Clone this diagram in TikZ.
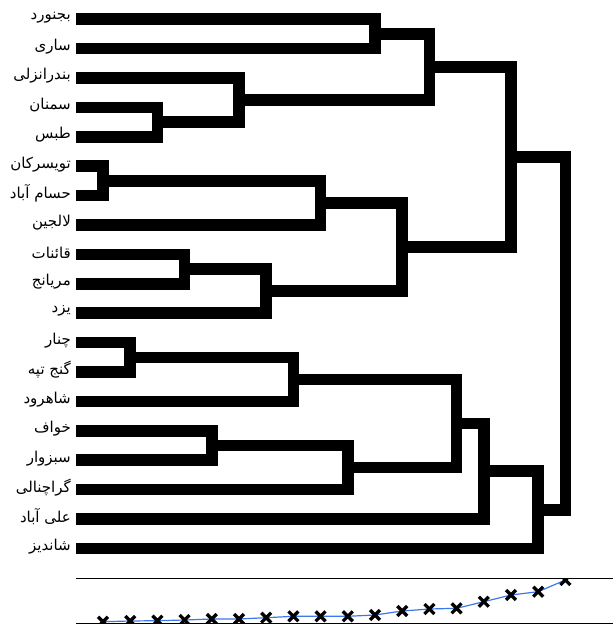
\documentclass[tikz,border=0pt]{standalone}
\usepackage{fontspec}
\usetikzlibrary{calc}
\newfontfamily\arabicfont[Script=Arabic]{DejaVu Sans}
\TeXXeTstate=1
\definecolor{trendblue}{RGB}{60,120,235}

\begin{document}
\begin{tikzpicture}[x=1pt, y=-1pt,
    link/.style={line width=11.5pt, line join=miter},
    city/.style={anchor=east, inner sep=0pt, font=\arabicfont\fontsize{15}{15}\selectfont},
    rule/.style={line width=0.8pt},
    trend/.style={draw=trendblue, line width=1.2pt, mark=x, mark size=7pt,
        mark options={draw=black, line width=3.3pt}}]
    \useasboundingbox (0,0) rectangle (613,627);
    % leaves
    \foreach \name [count=\i] in {بجنورد, ساری, بندرانزلی, سمنان, طبس, تویسرکان,
        حسام آباد, لالجین, قائنات, مریانج, یزد, چنار, گنج تپه, شاهرود, خواف,
        سبزوار, گراچنالی, علی آباد, شاندیز} {
        \pgfmathsetmacro\yy{19.2+29.4*(\i-1)}
        \node[city] (l\i) at (71,\yy-2) {\beginR\name\endR};
        \coordinate (s\i) at (76,\yy);
        \draw[link] (s\i) -- ++(1,0);
    }
    % merges, in order of joining
    \foreach \a/\b [count=\k] in {s6/s7, s12/s13, s4/s5, s9/s10, s15/s16, s3/m3,
        m4/s11, m2/s14, m1/s8, m5/s17, s1/s2, m9/m7, m11/m6, m8/m10, m14/s18,
        m13/m12, m15/s19, m16/m17} {
        \pgfmathsetmacro\xx{103+27.2*(\k-1)}
        \coordinate (mx) at (\xx,0);
        \coordinate (mid) at ($(\a)!0.5!(\b)$);
        \coordinate (m\k) at (mx |- mid);
        \draw[link] (\a) -| (m\k) |- (\b);
    }
    % distance curve
    \draw[rule] (76,578.5) -- (613,578.5);
    \draw[rule] (76,623.3) -- (613,623.3);
    \begin{scope}
        \clip (76,578.5) rectangle (613,623.3);
        \draw[trend] plot coordinates {(103,621.7) (130.2,621) (157.4,620.7)
            (184.6,620) (211.8,619) (239,619) (266.2,617.7) (293.4,616.3)
            (320.6,616.3) (347.8,616.3) (375,615) (402.2,611) (429.4,609)
            (456.6,608.3) (483.8,601.7) (511,595) (538.2,591.7) (565.4,580)};
    \end{scope}
\end{tikzpicture}
\end{document}
